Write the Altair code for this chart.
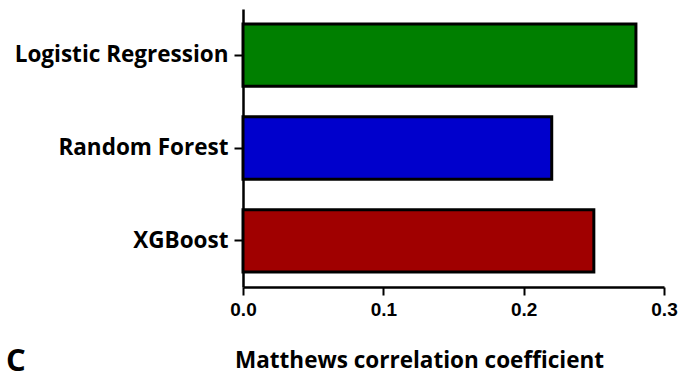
import altair as alt
import pandas as pd

models = ["Logistic Regression", "Random Forest", "XGBoost"]
mcc = [0.28, 0.22, 0.25]
colors = ["#007F00", "#0000CC", "#A00000"]

df = pd.DataFrame({"model": models, "mcc": mcc})

FONT = "Open Sans"

bars = alt.Chart(df).mark_bar(stroke="black", strokeWidth=3, strokeJoin="miter").encode(
    y=alt.Y("model:N", sort=models,
            scale=alt.Scale(paddingInner=0.33, paddingOuter=0.16),
            axis=alt.Axis(title=None, labelFont=FONT, labelFontSize=22.5, labelFontWeight="bold",
                          labelColor="black", tickSize=9, tickWidth=2, tickColor="black",
                          labelPadding=6, domainColor="black", domainWidth=2.5, labelLimit=400)),
    x=alt.X("mcc:Q", scale=alt.Scale(domain=[0, 0.3], nice=False),
            axis=alt.Axis(title="Matthews correlation coefficient", values=[0, 0.1, 0.2, 0.3],
                          format=".1f", grid=False, labelFont="Liberation Sans", labelFontSize=19,
                          labelFontWeight="bold", labelFlush=False, labelOverlap=False,
                          labelColor="black", tickSize=8, tickWidth=2, tickColor="black",
                          labelPadding=5, domainColor="black", domainWidth=2.5,
                          titleFont=FONT, titleFontSize=22.5, titleFontWeight="bold",
                          titleColor="black", titleX=176, titleY=80, titleBaseline="alphabetic")),
    color=alt.Color("model:N", scale=alt.Scale(domain=models, range=colors), legend=None),
)

label_c = alt.Chart(pd.DataFrame({"t": ["C"]})).mark_text(
    font=FONT, fontSize=31, fontWeight="bold", color="black", align="left", baseline="alphabetic"
).encode(text="t:N", x=alt.value(-237), y=alt.value(362))

chart = alt.layer(bars, label_c).properties(
    width=421, height=278,
    background="white",
    autosize=alt.AutoSizeParams(type="none"),
    padding={"left": 243, "top": 9, "right": 17, "bottom": 88},
).configure_view(stroke=None)

chart.save("out.html", embed_options={"renderer": "svg", "actions": False})
